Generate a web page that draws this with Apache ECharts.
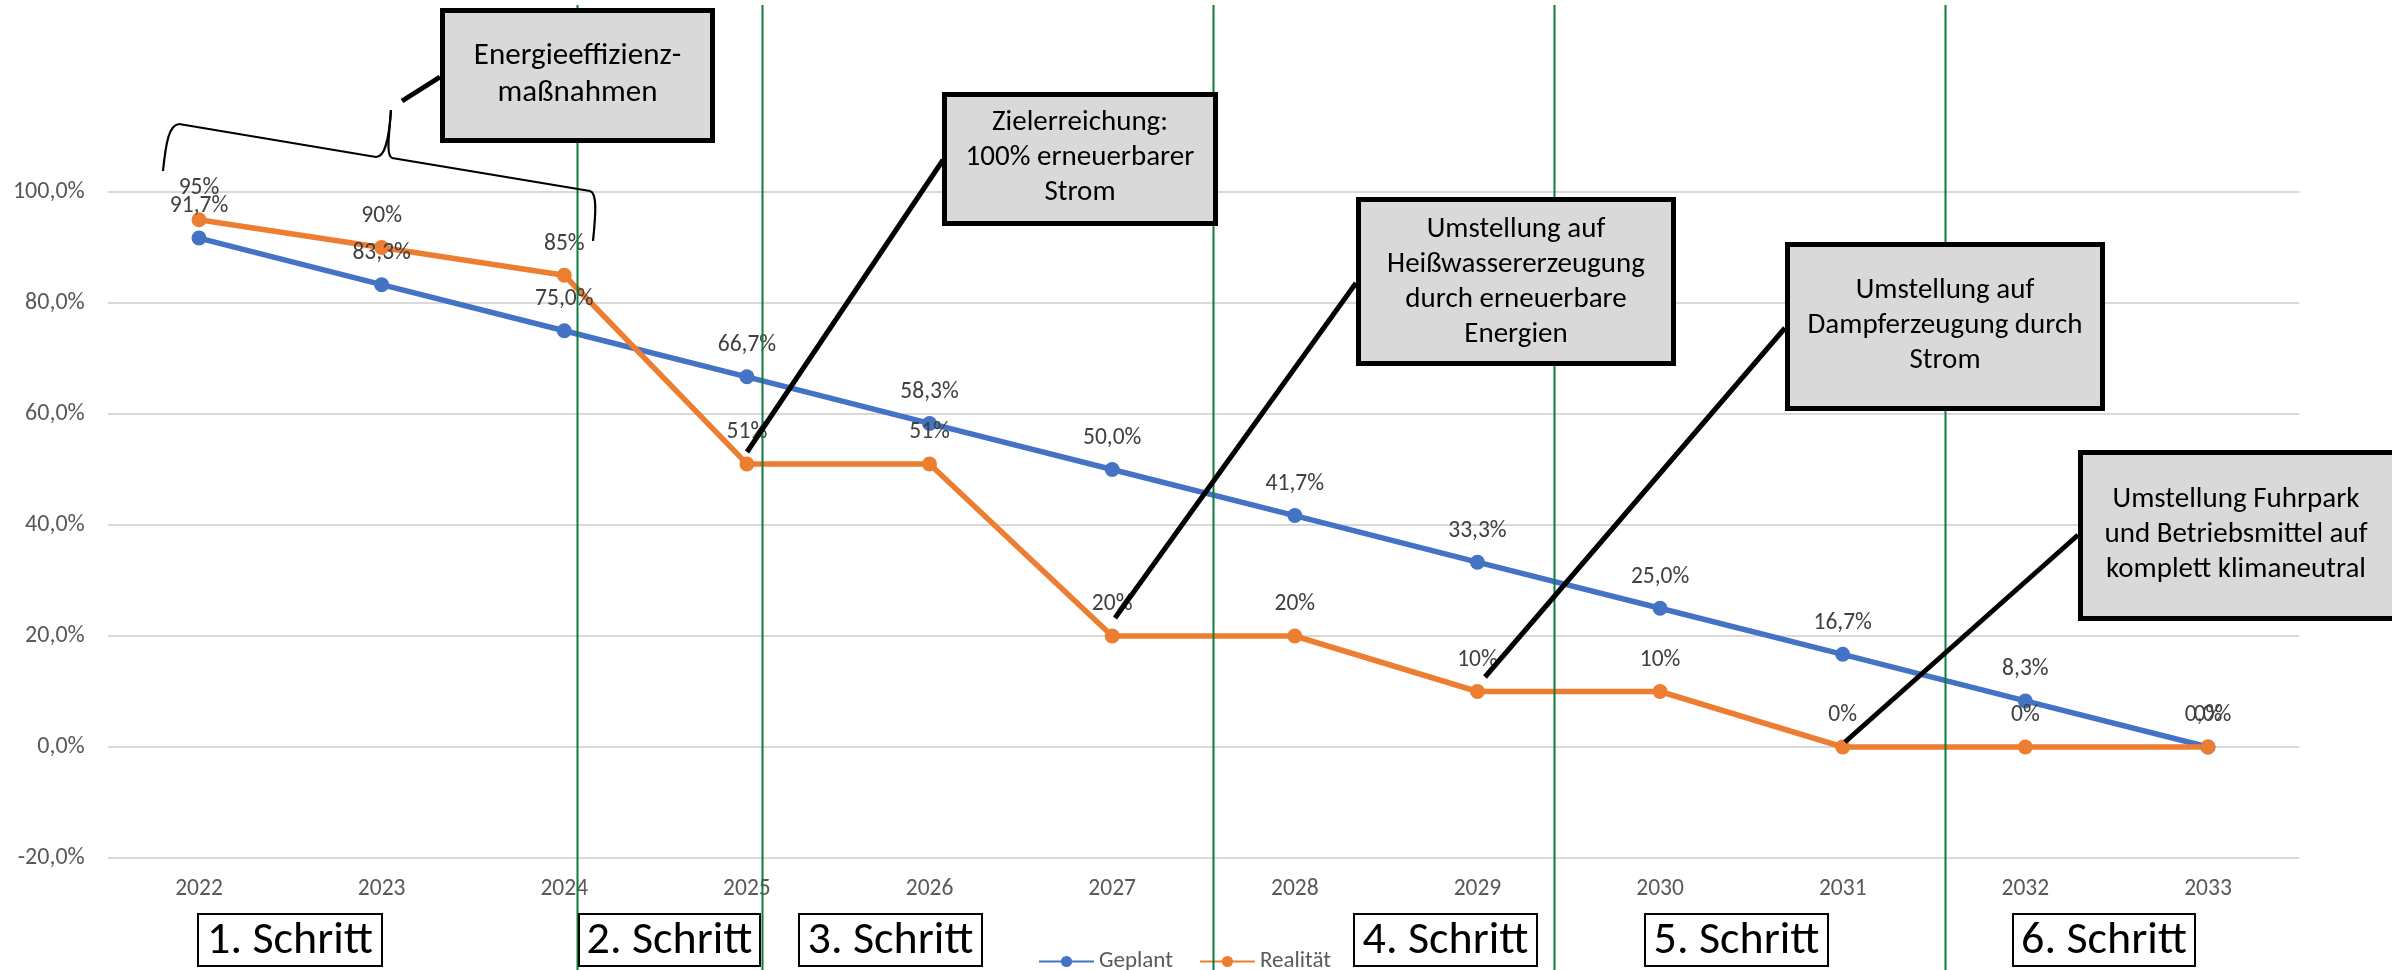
<!DOCTYPE html>
<html>
<head>
<meta charset="utf-8">
<script src="https://cdn.jsdelivr.net/npm/echarts@6/dist/echarts.min.js"></script>
<style>
html,body{margin:0;padding:0;background:#fff;}
#chart{width:2392px;height:970px;}
</style>
</head>
<body>
<div id="chart"></div>
<script>
// ---------- data ----------
const years = ['2022','2023','2024','2025','2026','2027','2028','2029','2030','2031','2032','2033'];
const geplant = [91.7, 83.3, 75.0, 66.7, 58.3, 50.0, 41.7, 33.3, 25.0, 16.7, 8.3, 0.0];
const realitaet = [95, 90, 85, 51, 51, 20, 20, 10, 10, 0, 0, 0];
const yMin = -20, yMax = 100, yStep = 20;
// step boundaries (in category-index units) for the green separators
const stepBoundaries = [2.07, 3.08, 5.55, 7.42, 9.56];
const stepLabels = ['1. Schritt','2. Schritt','3. Schritt','4. Schritt','5. Schritt','6. Schritt'];
const calloutTexts = [
  'Energieeffizienz-\nmaßnahmen',
  'Zielerreichung:\n100% erneuerbarer\nStrom',
  'Umstellung auf\nHeißwassererzeugung\ndurch erneuerbare\nEnergien',
  'Umstellung auf\nDampferzeugung durch\nStrom',
  'Umstellung Fuhrpark\nund Betriebsmittel auf\nkomplett klimaneutral'
];

// ---------- layout (annotation geometry) ----------
const FONT = "Carlito, 'Liberation Sans Narrow', 'DejaVu Sans Condensed', 'Noto Sans', sans-serif";
const calloutBoxes = [ // x1,y1,x2,y2, textCenterY, fontSize, lineHeight
  [440, 8, 715, 143, 75, 31, 37],
  [942, 92, 1218, 226, 158, 29, 35],
  [1356, 197, 1676, 366, 282, 29, 35],
  [1785, 242, 2105, 411, 326, 29, 35],
  [2078, 450, 2400, 621, 535, 29, 35]
];
const leaders = [
  [440, 77, 402, 101],
  [943, 160, 747, 452],
  [1356, 283, 1115, 618],
  [1785, 328, 1485, 677],
  [2078, 535, 1845, 742]
];
const stepBoxes = [[197,383],[578,761],[798,983],[1353,1538],[1644,1829],[2012,2196]];

const chart = echarts.init(document.getElementById('chart'), null, {renderer: 'canvas'});

const pctAxis = v => v.toFixed(1).replace('.', ',') + '%';

chart.setOption({
  animation: false,
  backgroundColor: '#ffffff',
  textStyle: {fontFamily: FONT},
  grid: {left: 107.7, right: 92.7, top: 192, bottom: 112, containLabel: false},
  legend: {
    left: 1033, top: 945,
    itemWidth: 55, itemHeight: 14, itemGap: 26,
    textStyle: {fontFamily: FONT, fontSize: 23, color: '#595959'},
    data: ['Geplant', 'Realität']
  },
  xAxis: [{
    type: 'category',
    data: years,
    boundaryGap: true,
    axisLine: {show: false, onZero: true},
    axisTick: {show: false},
    axisLabel: {margin: 19, fontSize: 23.5, color: '#595959', fontFamily: FONT},
    splitLine: {show: false}
  }, {
    type: 'value', min: -0.5, max: 11.5, show: false
  }],
  yAxis: {
    type: 'value', min: yMin, max: yMax, interval: yStep,
    axisLine: {show: false}, axisTick: {show: false},
    axisLabel: {margin: 23, fontSize: 24, color: '#595959', fontFamily: FONT, formatter: pctAxis},
    splitLine: {lineStyle: {color: '#D9D9D9', width: 2}}
  },
  series: [{
    name: 'Geplant', type: 'line', data: geplant,
    symbol: 'circle', symbolSize: 15,
    itemStyle: {color: '#4472C4'},
    lineStyle: {color: '#4472C4', width: 5.5},
    label: {show: true, position: 'top', distance: 12, fontSize: 23.5, color: '#404040', fontFamily: FONT,
            formatter: p => p.value.toFixed(1).replace('.', ',') + '%'}
  }, {
    name: 'Realität', type: 'line', data: realitaet,
    symbol: 'circle', symbolSize: 15,
    itemStyle: {color: '#ED7D31'},
    lineStyle: {color: '#ED7D31', width: 5.5},
    label: {show: true, position: 'top', distance: 12, fontSize: 23.5, color: '#404040', fontFamily: FONT,
            formatter: p => p.value + '%'}
  }]
});

// ---------- annotations ----------
const g = [];
// green step separators, positioned through the hidden value x axis
stepBoundaries.forEach(b => {
  const x = Math.round(chart.convertToPixel({xAxisIndex: 1}, b)) + 0.5;
  g.push({type: 'line', z: 50, silent: true,
    shape: {x1: x, y1: 5, x2: x, y2: 975},
    style: {stroke: '#0E7C3A', lineWidth: 2}});
});
// brace
const braceStyle = {stroke: '#000', lineWidth: 2.2, fill: null};
const braceCurves = [
  [163,171, 166,142, 169,125, 179,124],
  [376,157, 385,157, 389,140, 391,110],
  [391,110, 389,136, 386,155, 392,158],
  [590,191, 597,193, 596,212, 593,241]
];
braceCurves.forEach(c => g.push({type: 'bezierCurve', z: 60, silent: true,
  shape: {x1: c[0], y1: c[1], cpx1: c[2], cpy1: c[3], cpx2: c[4], cpy2: c[5], x2: c[6], y2: c[7]},
  style: braceStyle}));
g.push({type: 'line', z: 60, silent: true, shape: {x1: 179, y1: 124, x2: 376, y2: 157}, style: braceStyle});
g.push({type: 'line', z: 60, silent: true, shape: {x1: 392, y1: 158, x2: 590, y2: 191}, style: braceStyle});
// leader lines
leaders.forEach(l => g.push({type: 'line', z: 60, silent: true,
  shape: {x1: l[0], y1: l[1], x2: l[2], y2: l[3]},
  style: {stroke: '#000', lineWidth: 5}}));
// callout boxes
calloutBoxes.forEach((b, i) => {
  g.push({type: 'rect', z: 100, silent: true,
    shape: {x: b[0] + 2.5, y: b[1] + 2.5, width: b[2] - b[0] - 5, height: b[3] - b[1] - 5},
    style: {fill: '#D9D9D9', stroke: '#000', lineWidth: 5}});
  g.push({type: 'text', z: 101, silent: true,
    x: (b[0] + Math.min(b[2], 2394)) / 2, y: b[4],
    style: {text: calloutTexts[i], fill: '#000', font: b[5] + 'px ' + FONT,
      textAlign: 'center', textVerticalAlign: 'middle', lineHeight: b[6]}});
});
// step boxes
stepBoxes.forEach((s, i) => {
  g.push({type: 'rect', z: 100, silent: true,
    shape: {x: s[0] + 1, y: 914, width: s[1] - s[0] - 2, height: 52},
    style: {fill: '#fff', stroke: '#000', lineWidth: 2}});
  g.push({type: 'text', z: 101, silent: true,
    x: (s[0] + s[1]) / 2, y: 941,
    style: {text: stepLabels[i], fill: '#000', font: '46px ' + FONT,
      textAlign: 'center', textVerticalAlign: 'middle'}});
});
chart.setOption({graphic: {elements: g}});
</script>
</body>
</html>
